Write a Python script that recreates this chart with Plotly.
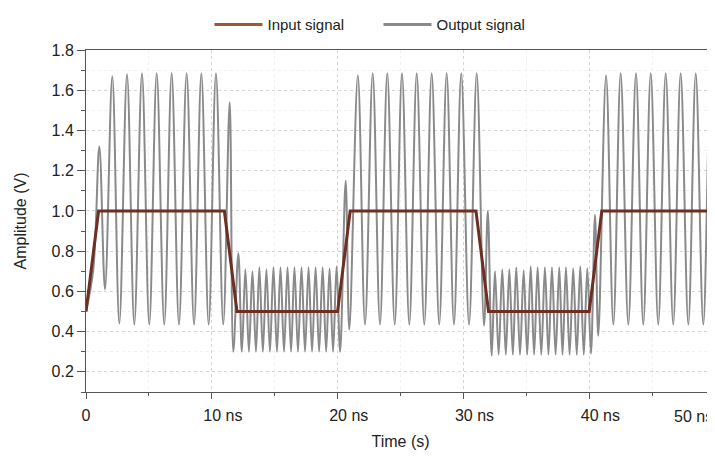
import plotly.graph_objects as go

# ---- data ----
INPUT_T = [0, 1, 11, 12, 20, 21, 31, 32, 40, 41, 50]
INPUT_V = [0.5, 1.0, 1.0, 0.5, 0.5, 1.0, 1.0, 0.5, 0.5, 1.0, 1.0]

# output signal: start point, bends and successive peaks / troughs (ns, V)
OUTPUT_T = [
    0.00, 0.58, 1.06, 1.51,
    2.09, 2.65, 3.26, 3.84, 4.45, 5.03, 5.62, 6.22, 6.81, 7.39, 8.00, 8.59,
    9.17, 9.75, 10.33, 10.91, 11.42, 11.71,
    12.11, 12.39, 12.67, 12.95, 13.23, 13.51, 13.78, 14.06, 14.34, 14.62,
    14.90, 15.18, 15.46, 15.74, 16.02, 16.30, 16.57, 16.85, 17.13, 17.41,
    17.69, 17.97, 18.25, 18.53, 18.81, 19.09, 19.36, 19.64, 19.92, 20.20,
    20.64, 20.93,
    21.61, 22.18, 22.79, 23.37, 23.95, 24.54, 25.12, 25.70, 26.29, 26.89,
    27.48, 28.08, 28.67, 29.25, 29.83, 30.45, 31.06, 31.64,
    31.94, 32.25,
    32.51, 32.80, 33.09, 33.37, 33.65, 33.93, 34.20, 34.50, 34.79, 35.07,
    35.35, 35.62, 35.90, 36.19, 36.48, 36.76, 37.04, 37.33, 37.62, 37.88,
    38.15, 38.44, 38.73, 39.01, 39.29, 39.57, 39.85, 40.14,
    40.46, 40.72,
    41.34, 41.92, 42.50, 43.11, 43.72, 44.30, 44.89, 45.49, 46.08, 46.68,
    47.27, 47.88, 48.47, 49.07, 49.66, 50.25,
]
OUTPUT_V = [
    0.50, 0.71, 1.32, 0.61,
    1.67, 0.44, 1.68, 0.435, 1.685, 0.435, 1.685, 0.435, 1.685, 0.435, 1.685, 0.435,
    1.685, 0.435, 1.685, 0.435, 1.54, 0.30,
    0.79, 0.30, 0.71, 0.30, 0.70, 0.30, 0.72, 0.30, 0.71, 0.30,
    0.72, 0.30, 0.72, 0.30, 0.72, 0.30, 0.72, 0.30, 0.72, 0.30,
    0.72, 0.30, 0.72, 0.30, 0.72, 0.30, 0.715, 0.30, 0.725, 0.30,
    1.15, 0.41,
    1.675, 0.435, 1.685, 0.435, 1.685, 0.435, 1.685, 0.435, 1.685, 0.435,
    1.685, 0.435, 1.685, 0.435, 1.685, 0.435, 1.685, 0.43,
    1.00, 0.28,
    0.70, 0.285, 0.71, 0.285, 0.71, 0.285, 0.72, 0.285, 0.705, 0.285,
    0.725, 0.285, 0.72, 0.285, 0.72, 0.285, 0.72, 0.285, 0.72, 0.285,
    0.72, 0.285, 0.715, 0.285, 0.725, 0.285, 0.715, 0.29,
    0.98, 0.38,
    1.675, 0.435, 1.685, 0.435, 1.685, 0.435, 1.685, 0.435, 1.685, 0.435,
    1.685, 0.435, 1.685, 0.435, 1.685, 0.435,
]

X_TICK_VALUES = [0, 10, 20, 30, 40, 50]
X_TICK_LABELS = ["0", "10 ns", "20 ns", "30 ns", "40 ns", "50 ns"]
Y_TICK_VALUES = [0.2, 0.4, 0.6, 0.8, 1.0, 1.2, 1.4, 1.6, 1.8]

SERIES_NAMES = ["Input signal", "Output signal"]

# ---- styling ----
FONT = "Arial, Liberation Sans, sans-serif"
TXT = "#222222"
INPUT_COLOR = "#6e2f22"
INPUT_LEGEND_COLOR = "#a3572c"
OUTPUT_COLOR = "#8a8a8a"
NB = "\u00a0"

# numbers centred on their ticks (as in the reference); the last label sits
# against the right edge, so it is drawn as an annotation instead
n_x = len(X_TICK_LABELS)
x_text = []
for i, lbl in enumerate(X_TICK_LABELS):
    if i == 0:
        x_text.append(lbl)
    elif i == n_x - 1:
        x_text.append("")
    else:
        x_text.append(NB * 5 + lbl)
y_text = ["%.1f" % v for v in Y_TICK_VALUES]

fig = go.Figure()
fig.add_trace(go.Scatter(
    x=OUTPUT_T, y=OUTPUT_V, mode="lines", name=SERIES_NAMES[1],
    line=dict(color=OUTPUT_COLOR, width=2, shape="spline", smoothing=1),
    showlegend=False,
))
fig.add_trace(go.Scatter(
    x=INPUT_T, y=INPUT_V, mode="lines", name=SERIES_NAMES[0],
    line=dict(color=INPUT_COLOR, width=3), showlegend=False,
))
# legend entries
fig.add_trace(go.Scatter(x=[None], y=[None], mode="lines", name=SERIES_NAMES[0],
                         line=dict(color=INPUT_LEGEND_COLOR, width=3)))
fig.add_trace(go.Scatter(x=[None], y=[None], mode="lines", name=SERIES_NAMES[1],
                         line=dict(color=OUTPUT_COLOR, width=3)))

fig.add_annotation(
    x=X_TICK_VALUES[-1], xref="x", y=0, yref="paper",
    text=X_TICK_LABELS[-1], showarrow=False,
    xanchor="right", yanchor="top", xshift=0, yshift=-14,
    font=dict(size=16, color=TXT, family=FONT),
)

# the page body adds an 8px offset; the figure is sized so it ends at the window edge
fig.update_layout(
    width=707, height=451,
    template="none",
    paper_bgcolor="white", plot_bgcolor="white",
    margin=dict(l=78, r=0, t=34, b=67, pad=0),
    font=dict(family=FONT, size=16, color=TXT),
    showlegend=True,
    legend=dict(orientation="h", x=0.465, xanchor="center", y=1.074, yanchor="middle",
                font=dict(size=15, color=TXT), bgcolor="rgba(0,0,0,0)",
                tracegroupgap=0, itemwidth=48, entrywidth=106),
    xaxis=dict(
        range=[0, 50], autorange=False,
        tickmode="array", tickvals=X_TICK_VALUES, ticktext=x_text,
        ticks="outside", ticklen=6, tickcolor="#555", tickwidth=1,
        showline=True, linecolor="#555", linewidth=1, mirror=True,
        showgrid=True, gridcolor="#d4d4d4", griddash="dot", gridwidth=1,
        zeroline=False, automargin=False,
        tickfont=dict(size=16, color=TXT),
        ticklabelstandoff=3,
        minor=dict(tick0=0, dtick=5, ticks="outside", ticklen=3, tickcolor="#555",
                   showgrid=True, gridcolor="#f0f0f0", gridwidth=1),
        title=dict(text="Time (s)", font=dict(size=16, color=TXT), standoff=12),
    ),
    yaxis=dict(
        range=[0.1, 1.8], autorange=False,
        tickmode="array", tickvals=Y_TICK_VALUES, ticktext=y_text,
        ticks="outside", ticklen=8, tickcolor="#555", tickwidth=1,
        showline=True, linecolor="#555", linewidth=1, mirror=False,
        showgrid=True, gridcolor="#d4d4d4", griddash="dot", gridwidth=1,
        zeroline=False, automargin=False,
        tickfont=dict(size=16, color=TXT),
        minor=dict(tick0=0.1, dtick=0.1, ticks="outside", ticklen=4, tickcolor="#555",
                   showgrid=True, gridcolor="#f0f0f0", gridwidth=1),
        title=dict(text="Amplitude (V)", font=dict(size=16, color=TXT), standoff=20),
    ),
)

fig.write_html("out.html")
